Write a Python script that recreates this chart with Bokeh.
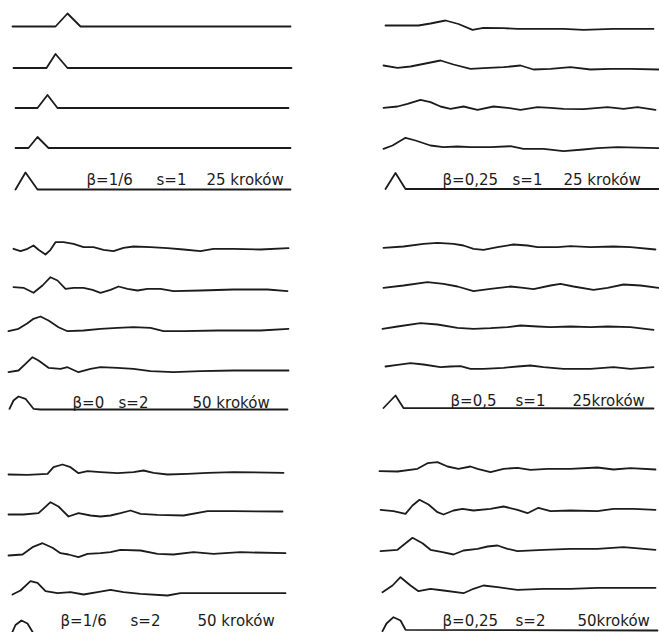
from bokeh.plotting import figure
from bokeh.models import Range1d
from bokeh.embed import file_html
from bokeh.resources import INLINE
from bokeh.core.properties import value

# ---------------- data: 6 panels, 5 traces each (x along grid, dy = displacement) -------------
# panel A: beta=1/6, s=1, 25 steps
a_x = [[4, 47, 59, 72, 282],
       [5, 38, 47, 59, 283],
       [7, 29, 39, 49, 280],
       [7, 20, 29, 40, 282],
       [7, 17, 29, 282]]
a_dy = [[0, 0, 13, 0, 0],
        [0, 0, 14, 0, 0],
        [0, 0, 13, 0, 0],
        [0, 0, 11, 0, 0],
        [0, 17, 0, 0]]

# panel B: beta=0,25, s=1, 25 steps
b_x = [[7, 40, 52, 67, 80, 94, 105, 125, 139, 159, 185, 205, 235, 275],
       [5, 19, 32, 62, 75, 92, 105, 125, 142, 155, 172, 192, 212, 232, 252, 280],
       [5, 19, 29, 42, 52, 62, 72, 85, 99, 115, 129, 142, 159, 172, 185, 205, 229, 245, 259, 277],
       [5, 14, 27, 37, 52, 65, 79, 92, 112, 132, 145, 165, 185, 205, 219, 239, 280],
       [7, 17, 27, 280]]
b_dy = [[1.5, 1.5, 3.5, 6.5, 3, -2.8, -0.8, -1.2, -1.8, -1.8, -1.8, -2.8, -1.8, -1.8],
        [3, 0.7, 2, 8, 4, -0.3, 0.3, 1.3, 3, -1, -0.3, 1.3, -1, -0.3, -0.3, -1],
        [0.2, 1.5, 4.2, 8.2, 5.8, 1.5, -0.8, 1.5, -1.8, 1.5, 0.2, -1.8, 0.8, 0.2, -0.8, -1.2, 0.8, -0.8, 0.8, -1.8],
        [-0.8, 2.5, 10.2, 7.5, 2.5, 0.8, 1.5, 0.8, 0.8, 1.8, -0.8, -0.8, -3.2, -1.5, -0.2, 0.8, -0.2],
        [0, 16, 0, 0]]

# panel C: beta=0, s=2, 50 steps
c_x = [[5, 12, 19, 25, 30, 37, 42, 47, 55, 65, 75, 85, 95, 105, 115, 125, 142, 159, 175, 192, 205, 225, 252, 280],
       [5, 15, 25, 34, 42, 49, 57, 65, 75, 84, 92, 102, 110, 119, 129, 139, 152, 165, 192, 225, 259, 279],
       [0, 10, 19, 25, 32, 40, 50, 59, 75, 92, 109, 125, 142, 155, 175, 209, 252, 280],
       [0, 10, 17, 24, 30, 40, 52, 59, 70, 82, 92, 109, 125, 142, 165, 192, 225, 280],
       [1, 5, 10, 17, 25, 32, 279]]
c_dy = [[-0.3, -2.7, -0.3, 3, -1.3, -6, -1.3, 6.3, 6.3, 4.7, 1.3, 1.3, -1.3, -2.7, 0.7, 2, 1.3, 0.3, -1, -2.7, -0.3, -0.3, -1, 0.3],
        [1.8, 1.2, -3.8, 3.5, 11.8, 8.5, 0.2, 1.2, 1.2, -0.8, -3.8, -0.8, 2.5, 0.2, -1.5, 0.2, 0.2, -2.2, -1.5, -0.5, -0.5, -2.2],
        [-1.2, 1.2, 6.8, 11.2, 13.5, 9.5, 2.8, -1.2, -0.5, 1.2, 2.2, 2.8, 2.2, -1.2, -1.2, -0.5, -0.5, 1.2],
        [-1.2, 0.5, 7.2, 13.8, 10.5, 3.2, 2.2, 3.8, -1.2, 2.2, 3.8, 3.2, 2.2, -0.2, -1.2, -0.2, 0.5, 0.5],
        [0.7, 9, 13, 10.7, 0.7, 0, 0]]

# panel D: beta=0,5, s=1, 25 steps
d_x = [[5, 25, 45, 59, 75, 85, 95, 105, 119, 135, 149, 159, 179, 192, 212, 235, 252, 277],
       [5, 25, 49, 65, 79, 95, 112, 132, 145, 155, 172, 182, 195, 215, 229, 245, 262, 280],
       [4, 19, 42, 59, 79, 95, 112, 129, 142, 159, 172, 192, 212, 229, 252, 275],
       [7, 19, 32, 45, 62, 72, 82, 92, 105, 125, 139, 152, 165, 185, 212, 235, 252, 275],
       [5, 17, 25, 275]]
d_dy = [[-0.8, 0.5, 3.2, 4.2, 3.2, 1.5, -1.8, -2.8, -0.2, 2.5, 1.5, -0.2, -0.2, 0.8, -0.2, 0.5, -0.2, -2.5],
        [-0.8, 1.5, 4.8, 3.2, 0.5, -4.2, -1.8, 0.5, -0.8, -2.2, 1.5, 3.2, 0.5, -2.8, -0.8, 2.5, 1.5, -0.8],
        [-1.3, 1, 4.3, 3, -0.3, -1.3, -0.7, 0.3, 2, 1, 0.3, 1, 0.3, 1, 0.3, -2.3],
        [0.5, 2.2, 3.8, 2.5, -0.2, 0.5, 0.8, -1.8, -1.8, -0.8, 0.5, 1.5, -0.2, -1.8, -1.8, -0.2, -1.8, -0.2],
        [0, 12.5, 0, -0.5]]

# panel E: beta=1/6, s=2, 50 steps
e_x = [[0, 19, 39, 45, 54, 62, 70, 79, 92, 109, 125, 135, 145, 159, 179, 199, 225, 275],
       [0, 15, 30, 42, 50, 60, 70, 82, 92, 102, 112, 122, 132, 149, 175, 199, 225, 274],
       [0, 14, 24, 34, 44, 52, 60, 70, 79, 92, 102, 112, 132, 149, 165, 185, 205, 232, 277],
       [4, 12, 22, 29, 37, 49, 62, 75, 89, 102, 115, 132, 159, 172, 199, 225, 277],
       [3, 7, 13, 19, 25, 30, 277]]
e_dy = [[-0.5, -0.8, 0.2, 6.8, 9.5, 6.8, 0.8, 2.8, 1.8, 0.8, 1.8, 3.5, 1.2, -0.5, 0.2, 1.2, 1.8, 1.2],
        [-0.5, -0.5, 0.8, 11.8, 7.5, -2.5, 0.8, -1.5, -2.5, -1.5, 0.8, 3.5, 0.2, -0.8, -1.5, 2.8, 2.8, 2.5],
        [-2, -1, 6.3, 10.3, 5.7, 0.3, -1, -3.7, -0.3, 0.3, 1.3, 3.7, 3, -0.3, -1, 1.3, -0.3, 1.3, 0.3],
        [-1, 3, 12.3, 10.7, 2.3, 0.3, 1.3, -1, 1.3, 3.7, 1.3, -0.3, -2, 0.3, 0.3, 0.3, 0.3],
        [0, 9, 13.5, 10.5, 0.5, 0, 0]]

# panel F: beta=0,25, s=2, 50 steps
f_x = [[1, 19, 39, 49, 59, 69, 80, 92, 99, 112, 125, 139, 152, 169, 192, 219, 235, 252, 277],
       [2, 15, 27, 34, 41, 50, 59, 65, 75, 84, 95, 112, 125, 139, 149, 160, 172, 192, 219, 235, 255, 277],
       [2, 19, 34, 44, 52, 64, 75, 85, 99, 109, 119, 129, 139, 165, 192, 219, 245, 277],
       [4, 14, 22, 32, 40, 52, 65, 85, 95, 105, 119, 139, 165, 192, 219, 277],
       [4, 8, 15, 22, 27, 279]]
f_dy = [[-0.7, -1, 1.7, 7.3, 8.3, 4, 1.7, 4, 1.7, -1.7, 1.7, 2.7, 0.7, 1.7, 1.7, 3, 1, 2.3, 1],
        [0.7, -0.7, -3.3, 5, 10.7, 6, -1.7, -4, 0, 1.7, 0, 1.7, 4, 0.7, -2.7, 2.7, -0.7, 0, -0.7, 1.7, 1.7, 0.7],
        [-0.7, 0.7, 12.7, 7.3, 0.7, -1.7, -4, 0, 1.7, 4, 5, 1.7, -0.7, 0.7, 1.7, 1.7, 3.3, 0.7],
        [-2.2, 4.5, 12.8, 4.5, -1.2, 1.2, -0.5, -3.2, 1.2, 4.5, 2.8, 0.2, 1.2, 1.2, 2.2, 2.2],
        [-0.7, 7, 13.3, 10, 0.7, 0]]

label_beta = ["β=1/6", "β=0,25", "β=0", "β=0,5", "β=1/6", "β=0,25"]
label_s = ["s=1", "s=1", "s=2", "s=1", "s=2", "s=2"]
label_steps = ["25 kroków", "25 kroków", "50 kroków", "25kroków", "50 kroków", "50kroków"]

# ---------------- layout (positions only) ----------------
panel_x = [a_x, b_x, c_x, d_x, e_x, f_x]
panel_dy = [a_dy, b_dy, c_dy, d_dy, e_dy, f_dy]
origin_x = [8, 378, 8, 378, 8, 378]
baselines = [[26, 67.5, 107.5, 147.5, 189],
             [26.5, 68, 107.5, 147.5, 188.5],
             [248, 288.5, 329.5, 370.5, 409],
             [246.5, 286.5, 327, 366.5, 407.5],
             [473.5, 513.5, 553, 593, 633.5],
             [470, 510, 550, 589.5, 630]]
label_pos_x = [[86, 156, 206], [442, 512, 563], [72, 118, 192],
               [450, 515, 572], [60, 130, 197], [442, 515, 577]]
label_base_y = [179.5, 179.5, 402.5, 400, 620.5, 620.5]

p = figure(width=659, height=632, output_backend="svg", toolbar_location=None,
           x_range=Range1d(0, 659), y_range=Range1d(632, 0),
           min_border=0, background_fill_color="white", border_fill_color="white")
p.axis.visible = False
p.grid.visible = False
p.outline_line_color = None

ink = "#1c1c1c"
for k in range(6):
    for t in range(5):
        xs = [origin_x[k] + v for v in panel_x[k][t]]
        ys = [baselines[k][t] - v for v in panel_dy[k][t]]
        p.line(xs, ys, line_color=ink, line_width=1.8,
               line_join="round", line_cap="round")
    texts = [label_beta[k], label_s[k], label_steps[k]]
    p.text(x=label_pos_x[k], y=[label_base_y[k]] * 3, text=texts,
           text_font=value("DejaVu Sans"), text_font_size="15px",
           text_color=ink, text_align="left", text_baseline="alphabetic")

open("out.html", "w").write(file_html(p, INLINE))
